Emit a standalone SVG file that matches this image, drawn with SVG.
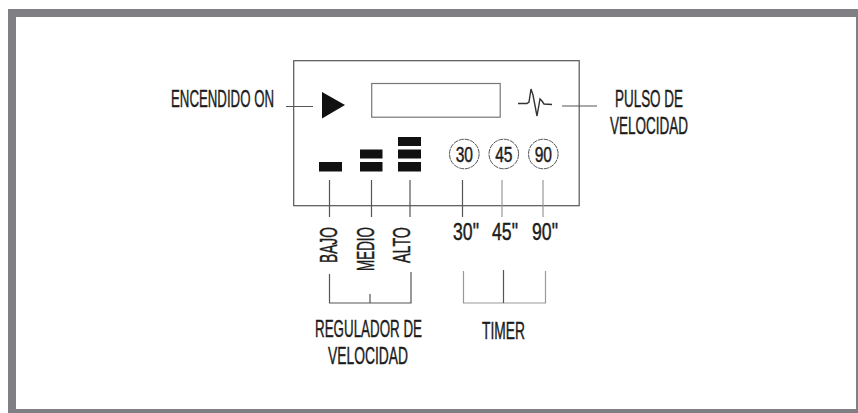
<svg xmlns="http://www.w3.org/2000/svg" width="858" height="413" viewBox="0 0 858 413">
<style>
text{font-family:"Liberation Sans",Arial,sans-serif;font-size:24px;fill:#1c1c1c;stroke:#1c1c1c;stroke-width:.45;paint-order:stroke}
.n{font-size:22px}
.l{fill:none;stroke:#555;stroke-width:1.2}
.g{fill:none;stroke:#999;stroke-width:1.2}
.b{fill:#111}
.c{fill:#fff;stroke:#555;stroke-width:1;stroke-dasharray:5 .8}
</style>
<rect width="858" height="413" fill="#fff"/>
<path id="frame" fill="#808084" fill-rule="evenodd" d="M8 9H858V413H8ZM16 17V409H856V17Z"/>
<g id="panel"><rect x="293.700" y="60.700" width="285.500" height="145" class="l"/></g>
<g id="play"><polygon points="322,92 345,105 322,118.500" class="b"/></g>
<g id="display"><rect x="371.700" y="83.500" width="128.500" height="33.700" fill="none" stroke="#777" stroke-width="1.200"/></g>
<g id="pulse"><polyline points="518,103.500 527,103.500 529,102 531,89 533,95 537,116 540,99 542,101 544,104 552,104.500" fill="none" stroke="#333" stroke-width="1.400"/></g>
<g id="bajo-icon"><rect x="319" y="162" width="23" height="9.500" class="b"/></g>
<g id="medio-icon"><rect x="360" y="149.500" width="22.500" height="9" class="b"/><rect x="360" y="162" width="22.500" height="9.500" class="b"/></g>
<g id="alto-icon"><rect x="398" y="137" width="23" height="9" class="b"/><rect x="398" y="149.500" width="23" height="9" class="b"/><rect x="398" y="162" width="23" height="9.500" class="b"/></g>
<g id="t30"><circle cx="464.300" cy="154" r="14.800" class="c"/><text class="n" transform="translate(455.700 162) scale(.68 1)" textLength="25.500" lengthAdjust="spacingAndGlyphs">30</text></g>
<g id="t45"><circle cx="503.800" cy="154" r="14.800" class="c"/><text class="n" transform="translate(495.200 162) scale(.68 1)" textLength="25.500" lengthAdjust="spacingAndGlyphs">45</text></g>
<g id="t90"><circle cx="543.300" cy="154" r="14.800" class="c"/><text class="n" transform="translate(534.700 162) scale(.68 1)" textLength="25.500" lengthAdjust="spacingAndGlyphs">90</text></g>
<g id="connectors">
<path class="l" d="M286 106.500H313M562 106H597M329.500 180V217M371.500 180V217M410 180V217M462.500 180V217"/>
<path class="g" d="M502 180V217M543 180V217"/>
<path class="l" d="M329.500 274V303H411V272M370 294V303"/>
<path class="g" d="M463.500 271V303H545.500V271"/>
<path class="l" d="M503.500 270V303"/>
</g>
<g id="labels">
<text transform="translate(171 106.800) scale(.58 1)" textLength="177.600" lengthAdjust="spacingAndGlyphs">ENCENDIDO ON</text>
<text transform="translate(615 106.800) scale(.58 1)" textLength="117.200" lengthAdjust="spacingAndGlyphs">PULSO DE</text>
<text transform="translate(610 133.800) scale(.58 1)" textLength="134.500" lengthAdjust="spacingAndGlyphs">VELOCIDAD</text>
<text transform="translate(336.500 263) rotate(-90) scale(.58 1)" textLength="62" lengthAdjust="spacingAndGlyphs">BAJO</text>
<text transform="translate(373.500 271) rotate(-90) scale(.58 1)" textLength="75.900" lengthAdjust="spacingAndGlyphs">MEDIO</text>
<text transform="translate(410 263) rotate(-90) scale(.58 1)" textLength="62" lengthAdjust="spacingAndGlyphs">ALTO</text>
<text transform="translate(453 240) scale(.72 1)" textLength="36" lengthAdjust="spacingAndGlyphs">30"</text>
<text transform="translate(492 240) scale(.72 1)" textLength="36" lengthAdjust="spacingAndGlyphs">45"</text>
<text transform="translate(532 240) scale(.72 1)" textLength="36" lengthAdjust="spacingAndGlyphs">90"</text>
<text transform="translate(315 337) scale(.58 1)" textLength="184.500" lengthAdjust="spacingAndGlyphs">REGULADOR DE</text>
<text transform="translate(328 363.500) scale(.58 1)" textLength="138" lengthAdjust="spacingAndGlyphs">VELOCIDAD</text>
<text transform="translate(482 339) scale(.58 1)" textLength="74" lengthAdjust="spacingAndGlyphs">TIMER</text>
</g>
</svg>
